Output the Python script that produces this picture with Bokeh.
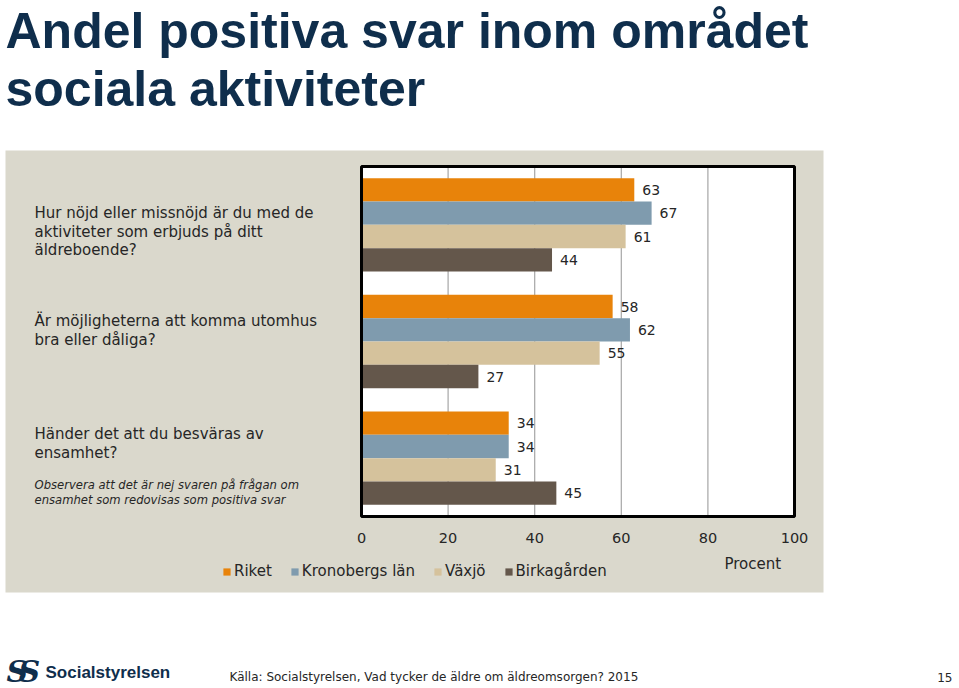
from bokeh.plotting import figure
from bokeh.models import Range1d, Label, Legend, LegendItem
from bokeh.core.properties import value
from bokeh.embed import file_html
from bokeh.resources import INLINE

# ---------------- data ----------------
title_lines = ["Andel positiva svar inom området", "sociala aktiviteter"]
question_lines = [
    ["Hur nöjd eller missnöjd är du med de", "aktiviteter som erbjuds på ditt", "äldreboende?"],
    ["Är möjligheterna att komma utomhus", "bra eller dåliga?"],
    ["Händer det att du besväras av", "ensamhet?"],
]
note_lines = ["Observera att det är nej svaren på frågan om",
              "ensamhet som redovisas som positiva svar"]
series_names = ["Riket", "Kronobergs län", "Växjö", "Birkagården"]
riket = [63, 58, 34]
kronobergs_lan = [67, 62, 34]
vaxjo = [61, 55, 31]
birkagarden = [44, 27, 45]
x_ticks = [0, 20, 40, 60, 80, 100]
axis_title = "Procent"
source_text = "Källa: Socialstyrelsen, Vad tycker de äldre om äldreomsorgen? 2015"
logo_text = "Socialstyrelsen"
page_number = "15"

series_values = [riket, kronobergs_lan, vaxjo, birkagarden]
colors = ["#E8830A", "#7F9BAE", "#D5C29C", "#64574B"]
panel_color = "#DAD8CC"
text_color = "#262626"
navy = "#0F2E4C"
FONT = "DejaVu Sans"

# ---------------- layout geometry (pixels) ----------------
W, H = 959, 688
PLOT_L, PLOT_R, PLOT_T, PLOT_B = 361, 794, 166, 516
n_cat = len(riket)
x_per_px = 100.0 / (PLOT_R - PLOT_L)
y_per_px = float(n_cat) / (PLOT_B - PLOT_T)


def dx(px):
    return (px - PLOT_L) * x_per_px


def dy(py):
    return (PLOT_B - py) * y_per_px


p = figure(width=W, height=H, x_range=Range1d(dx(0), dx(W)), y_range=Range1d(dy(H), dy(0)),
           output_backend="svg", toolbar_location=None, min_border=0,
           x_axis_location=None, y_axis_location=None,
           background_fill_color="white", border_fill_color="white",
           outline_line_color=None)
p.grid.visible = False

# beige panel behind the chart
p.quad(left=[dx(5)], right=[dx(823)], top=[dy(150)], bottom=[dy(592)],
       fill_color=panel_color, line_color=None)
# white plot area
p.quad(left=[0], right=[100], top=[n_cat], bottom=[0], fill_color="white", line_color=None)
# vertical grid lines
p.segment(x0=x_ticks[1:-1], x1=x_ticks[1:-1], y0=0, y1=n_cat,
          line_color="#A6A6A6", line_width=1.2)

renderers = []
for j, (vals, col) in enumerate(zip(series_values, colors)):
    ys = [n_cat - 0.5 - i + 0.3 - 0.2 * j for i in range(n_cat)]
    r = p.hbar(y=ys, left=0, right=vals, height=0.2, fill_color=col, line_color=None)
    renderers.append(r)
    p.text(x=vals, y=ys, text=[str(v) for v in vals], x_offset=8,
           text_baseline="middle", text_align="left", text_font_size="14px",
           text_font=value(FONT), text_color=text_color)

# plot frame outline
p.quad(left=[0], right=[100], top=[n_cat], bottom=[0], fill_color=None,
       line_color="black", line_width=3)

# x tick labels
p.text(x=x_ticks, y=[dy(537)] * len(x_ticks), text=[str(t) for t in x_ticks],
       text_align="center", text_baseline="middle", text_font=value(FONT),
       text_font_size="14.5px", text_color=text_color)


def label(x, y_base, text, size, font=FONT, style="normal", color=text_color, align="left"):
    # the rendered baseline sits about 0.27*size below the Label's y,
    # so raise the anchor by that much
    y_adj = y_base - 0.27 * size
    p.add_layout(Label(x=x, y=H - y_adj, x_units="screen", y_units="screen", text=text,
                       text_font=font, text_font_size="%gpx" % size, text_font_style=style,
                       text_color=color, text_baseline="alphabetic", text_align=align))


# title
for t, b in zip(title_lines, [44, 102]):
    label(5, b, t, 50, font="Liberation Sans", style="bold", color=navy)

# question labels
q_baselines = [[217, 235.5, 254], [325, 343.5], [438, 456.5]]
for lines, bls in zip(question_lines, q_baselines):
    for t, b in zip(lines, bls):
        label(34, b, t, 15)
for t, b in zip(note_lines, [487.5, 502.5]):
    label(34, b, t, 11.6, style="italic")

label(724, 568, axis_title, 15)

legend = Legend(items=[LegendItem(label=s, renderers=[r]) for s, r in zip(series_names, renderers)],
                orientation="horizontal", location=(222, H - 580),
                glyph_width=9, glyph_height=9, label_standoff=3, spacing=18,
                padding=0, margin=0, background_fill_alpha=0, border_line_color=None,
                label_text_font=FONT, label_text_font_size="15px", label_text_color=text_color)
p.add_layout(legend)

# footer
label(6, 679, "S", 30, font="DejaVu Serif", style="bold italic", color=navy)
label(18, 679, "S", 30, font="DejaVu Serif", style="bold italic", color=navy)
label(45, 677, logo_text, 17, font="Liberation Sans", style="bold", color=navy)
label(229, 680, source_text, 12)
label(952, 680, page_number, 12, align="right")

open("out.html", "w").write(file_html(p, INLINE))
